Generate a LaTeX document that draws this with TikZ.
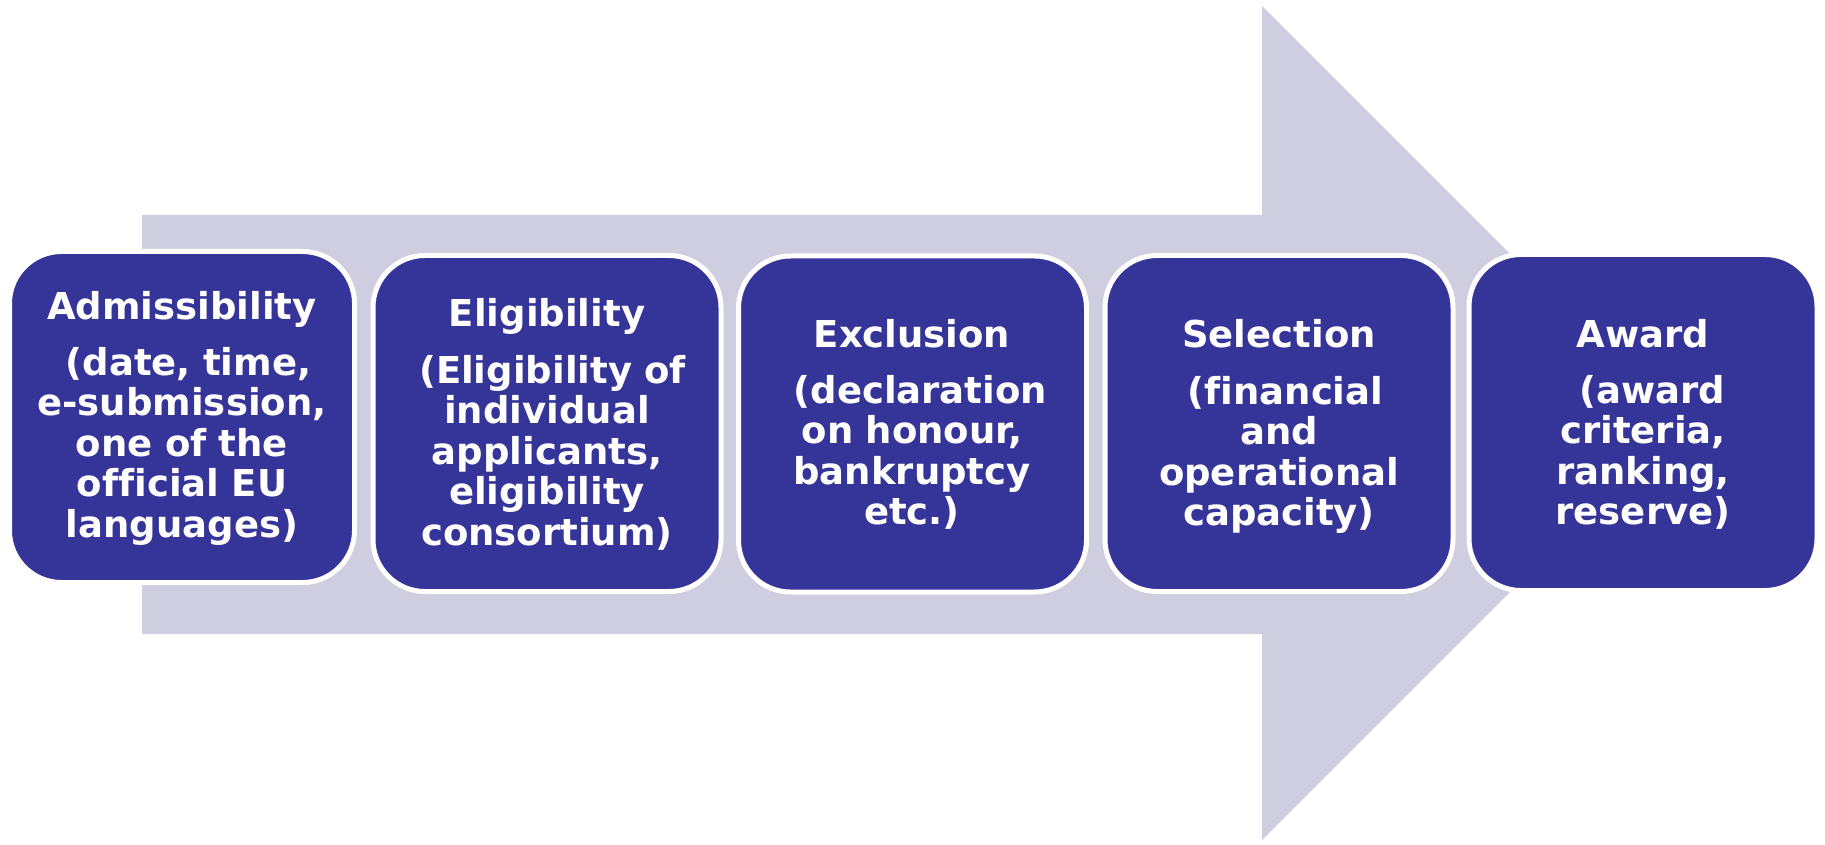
\documentclass[tikz,border=0pt]{standalone}
\usepackage{fontspec}
\setmainfont{DejaVu Sans}[Ligatures=NoCommon]
\definecolor{boxblue}{RGB}{53,53,153}
\definecolor{arrowgray}{RGB}{207,206,224}
\begin{document}
\begin{tikzpicture}[x=0.5pt,y=-0.5pt,
  stepbox/.style={draw=white, line width=2.5pt, fill=boxblue, rounded corners=26pt,
    inner sep=0pt, outer sep=0pt, minimum width=174pt, minimum height=168pt},
  titletext/.style={text=white, font=\fontsize{18.5}{20.25}\selectfont\bfseries,
    anchor=base, inner sep=0pt},
  subtext/.style={text=white, font=\fontsize{18.5}{20.25}\selectfont\bfseries,
    anchor=base, inner sep=0pt, text width=170pt, align=center}]
\useasboundingbox (0,0) rectangle (1825,845);
% big arrow
\fill[arrowgray] (142,215) -- (1262,215) -- (1262,6) -- (1679,423) -- (1262,840)
  -- (1262,634) -- (142,634) -- cycle;
% boxes
\node[stepbox, minimum width=172.5pt, minimum height=165.5pt] (b1) at (182,417) {};
\node[stepbox] (b2) at (547,423.5) {};
\node[stepbox] (b3) at (912.5,424) {};
\node[stepbox] (b4) at (1279,423.5) {};
\node[stepbox] (b5) at (1643,422.5) {};
% texts
\node[titletext] (t1) at (182,320) {Admissibility};
\node[subtext] (s1) at (182,375) {\hspace*{0.35em}(date, time,\\e-submission,\\one of the\\official EU\\languages)};
\node[titletext] (t2) at (547,327) {Eligibility};
\node[subtext] (s2) at (547,383) {\hspace*{0.3em}(Eligibility of\\individual\\applicants,\\eligibility\\consortium)};
\node[titletext] (t3) at (912,347) {Exclusion};
\node[subtext] (s3) at (912,403) {\hspace*{0.45em}(declaration\\on honour,\\bankruptcy\\etc.)};
\node[titletext] (t4) at (1279,347) {Selection};
\node[subtext] (s4) at (1279,404) {\hspace*{0.35em}(financial\\and\\operational\\capacity)};
\node[titletext] (t5) at (1643,347) {Award};
\node[subtext] (s5) at (1643,403) {\hspace*{0.5em}(award\\criteria,\\ranking,\\reserve)};
\end{tikzpicture}
\end{document}
